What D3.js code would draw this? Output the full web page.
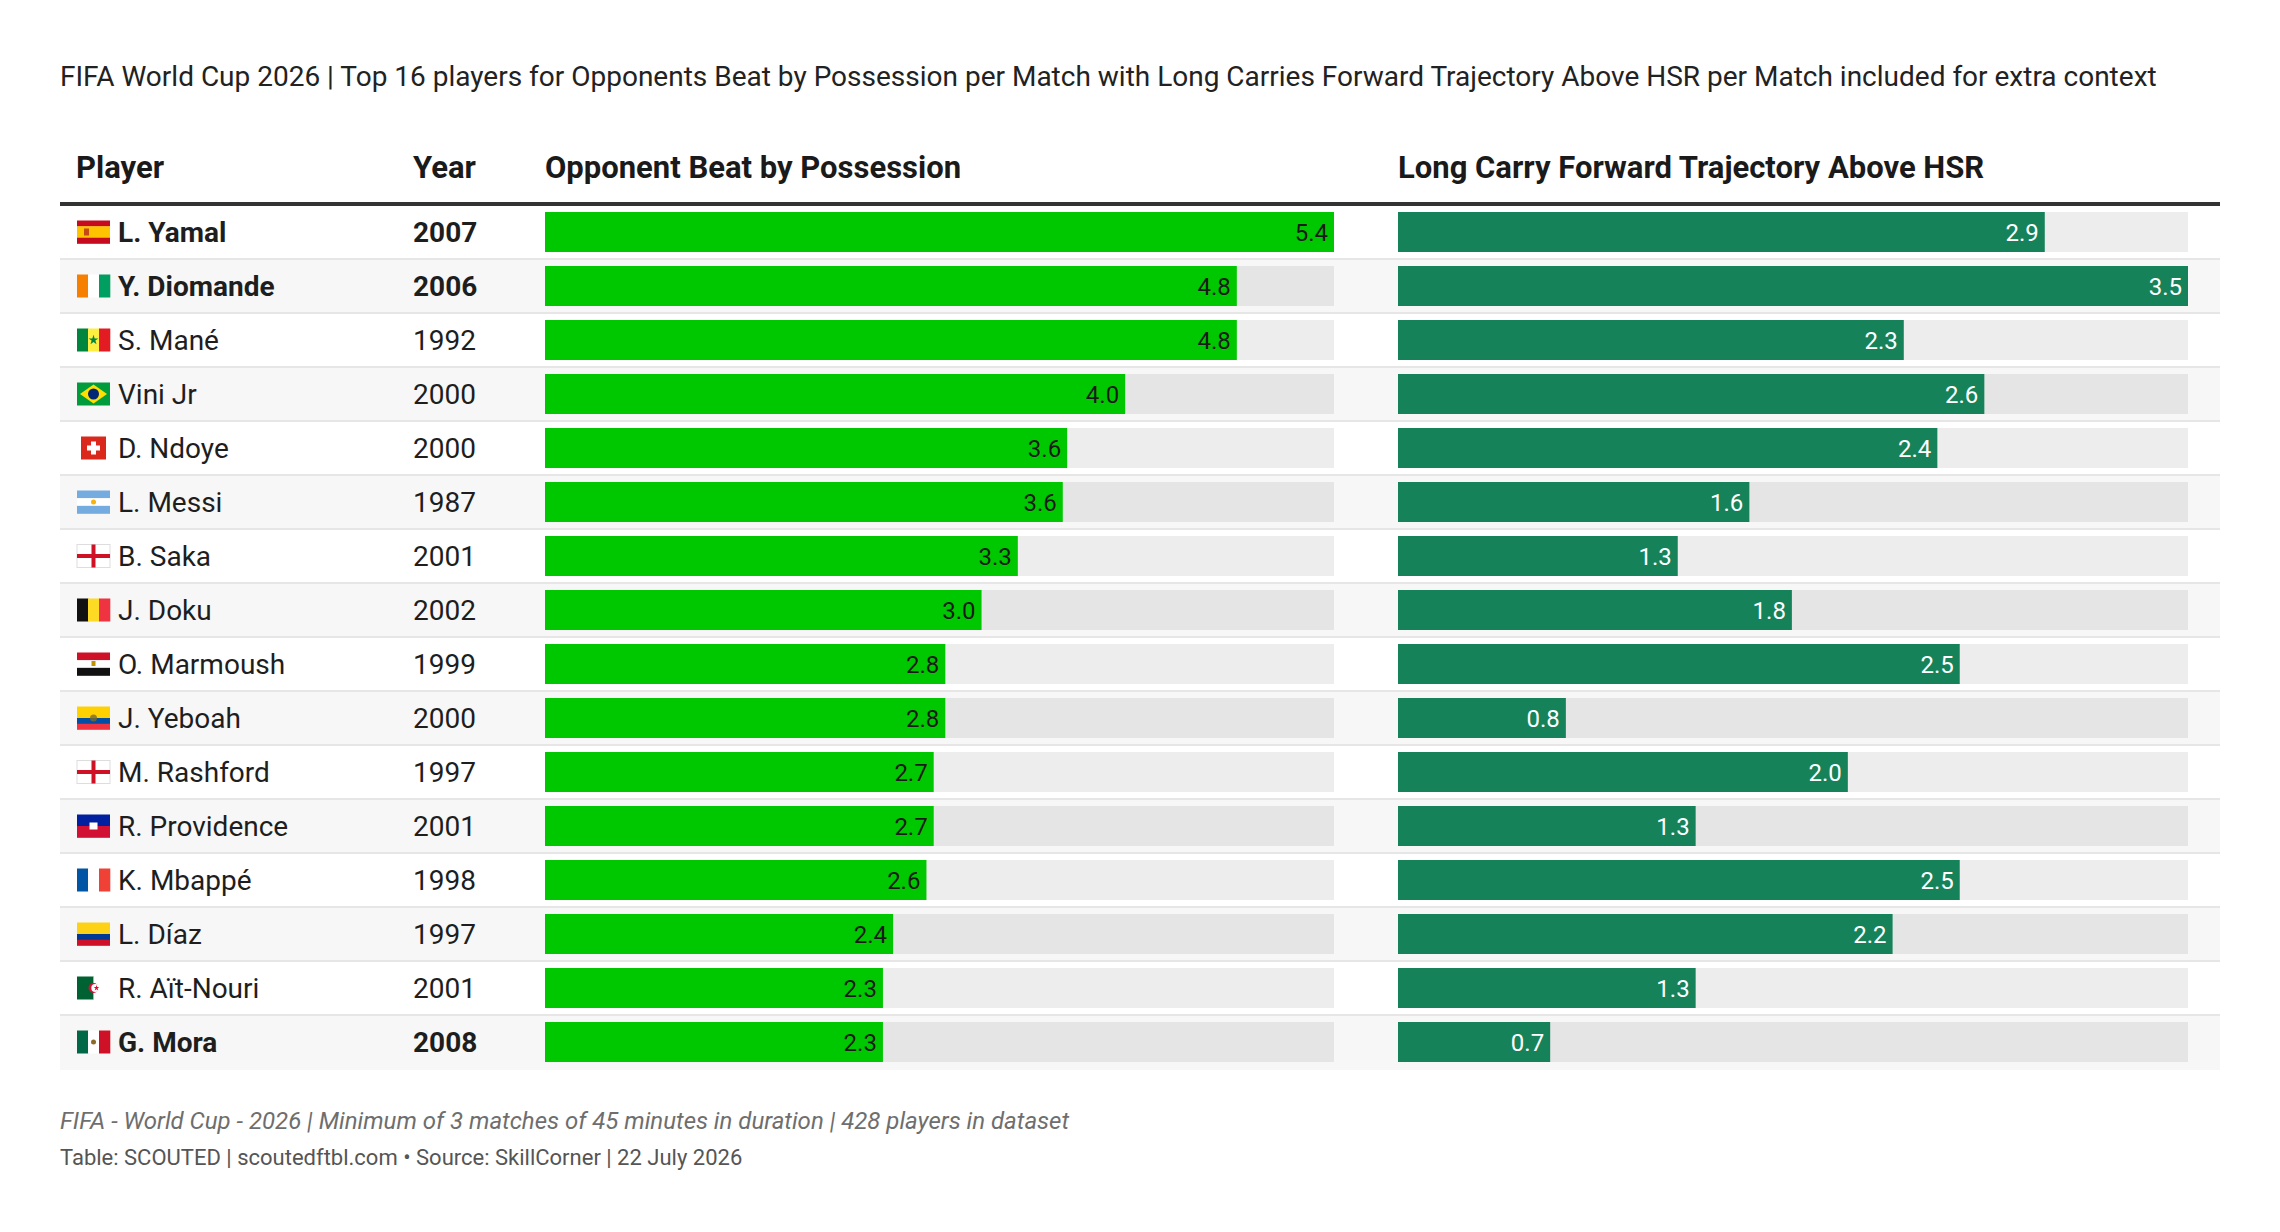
<!DOCTYPE html>
<html>
<head>
<meta charset="utf-8">
<script src="https://cdn.jsdelivr.net/npm/d3@7"></script>
<style>
  html, body { margin: 0; padding: 0; background: #fff; }
  svg { display: block; font-family: Roboto, "Noto Sans", sans-serif; }
</style>
</head>
<body>
<svg id="chart" width="2280" height="1232"></svg>
<script>
const players = ["L. Yamal", "Y. Diomande", "S. Mané", "Vini Jr", "D. Ndoye", "L. Messi", "B. Saka", "J. Doku",
  "O. Marmoush", "J. Yeboah", "M. Rashford", "R. Providence", "K. Mbappé", "L. Díaz", "R. Aït-Nouri", "G. Mora"];
const countries = ["ES", "CI", "SN", "BR", "CH", "AR", "ENG", "BE", "EG", "EC", "ENG", "HT", "FR", "CO", "DZ", "MX"];
const years = [2007, 2006, 1992, 2000, 2000, 1987, 2001, 2002, 1999, 2000, 1997, 2001, 1998, 1997, 2001, 2008];
const highlighted = [true, true, false, false, false, false, false, false, false, false, false, false, false, false, false, true];
const opponentsBeat = [5.44, 4.77, 4.77, 4.00, 3.60, 3.57, 3.26, 3.01, 2.76, 2.76, 2.68, 2.68, 2.63, 2.40, 2.33, 2.33];
const longCarries = [2.89, 3.53, 2.26, 2.62, 2.41, 1.57, 1.25, 1.76, 2.51, 0.75, 2.01, 1.33, 2.51, 2.21, 1.33, 0.68];
const headers = ["Player", "Year", "Opponent Beat by Possession", "Long Carry Forward Trajectory Above HSR"];

const title = "FIFA World Cup 2026 | Top 16 players for Opponents Beat by Possession per Match with Long Carries Forward Trajectory Above HSR per Match included for extra context";
const notes = "FIFA - World Cup - 2026 | Minimum of 3 matches of 45 minutes in duration | 428 players in dataset";
const source = "Table: SCOUTED | scoutedftbl.com • Source: SkillCorner | 22 July 2026";

const rows = players.map((p, i) => ({
  name: p, country: countries[i], year: years[i], bold: highlighted[i],
  obp: opponentsBeat[i], lcf: longCarries[i]
}));

const svg = d3.select("#chart");
const left = 60, right = 2220;
const tableTop = 206, rowH = 54;

const y = d3.scaleBand()
  .domain(d3.range(rows.length))
  .range([tableTop, tableTop + rowH * rows.length]);

const x1 = d3.scaleLinear().domain([0, d3.max(opponentsBeat)]).range([545, 1334]);
const x2 = d3.scaleLinear().domain([0, d3.max(longCarries)]).range([1398, 2188]);
const fmt = d3.format(".1f");

// title
svg.append("text")
  .attr("x", left).attr("y", 86)
  .attr("font-size", 28).attr("fill", "#222")
  .text(title);

// headers
const headX = [76, 413, 545, 1398];
svg.selectAll(".head")
  .data(headers)
  .join("text")
  .attr("class", "head")
  .attr("x", (d, i) => headX[i]).attr("y", 178)
  .attr("font-size", 31).attr("font-weight", 700).attr("fill", "#1a1a1a")
  .text(d => d);

// rows
const g = svg.selectAll(".row")
  .data(rows)
  .join("g")
  .attr("class", "row")
  .attr("transform", (d, i) => `translate(0,${y(i)})`);

g.append("rect")
  .attr("x", left).attr("width", right - left)
  .attr("height", rowH)
  .attr("fill", (d, i) => i % 2 ? "#f7f7f7" : "#fff");

g.filter((d, i) => i < rows.length - 1)
  .append("rect")
  .attr("x", left).attr("width", right - left)
  .attr("y", rowH - 2).attr("height", 2)
  .attr("fill", "#e6e6e6");

// tracks
g.append("rect")
  .attr("x", x1(0)).attr("y", 6)
  .attr("width", x1.range()[1] - x1(0)).attr("height", 40)
  .attr("fill", "rgba(0,0,0,0.07)");
g.append("rect")
  .attr("x", x2(0)).attr("y", 6)
  .attr("width", x2.range()[1] - x2(0)).attr("height", 40)
  .attr("fill", "rgba(0,0,0,0.07)");

// bars
g.append("rect")
  .attr("x", x1(0)).attr("y", 6)
  .attr("width", d => x1(d.obp) - x1(0)).attr("height", 40)
  .attr("fill", "#00c800");
g.append("rect")
  .attr("x", x2(0)).attr("y", 6)
  .attr("width", d => x2(d.lcf) - x2(0)).attr("height", 40)
  .attr("fill", "#16825a");

g.append("text")
  .attr("x", d => x1(d.obp) - 6).attr("y", 35)
  .attr("text-anchor", "end").attr("font-size", 24).attr("fill", "#1a1a1a")
  .text(d => fmt(d.obp));
g.append("text")
  .attr("x", d => x2(d.lcf) - 6).attr("y", 35)
  .attr("text-anchor", "end").attr("font-size", 24).attr("fill", "#fff")
  .text(d => fmt(d.lcf));

// names and years
g.append("text")
  .attr("x", 118).attr("y", 36)
  .attr("font-size", 28).attr("fill", "#1e1e1e")
  .attr("font-weight", d => d.bold ? 700 : 400)
  .text(d => d.name);
g.append("text")
  .attr("x", 413).attr("y", 36)
  .attr("font-size", 28).attr("fill", "#1e1e1e")
  .attr("font-weight", d => d.bold ? 700 : 400)
  .text(d => d.year);

// header rule
svg.append("rect")
  .attr("x", left).attr("y", 202)
  .attr("width", right - left).attr("height", 4)
  .attr("fill", "#333");

// flags (drawn as small shapes, 33 x 23)
const fw = 33, fh = 23;
function stripesH(s, cols, weights) {
  const w = weights || cols.map(() => 1);
  const tot = d3.sum(w);
  let acc = 0;
  cols.forEach((c, i) => {
    s.append("rect").attr("x", 0).attr("y", acc / tot * fh)
      .attr("width", fw).attr("height", w[i] / tot * fh + 0.3).attr("fill", c);
    acc += w[i];
  });
}
function stripesV(s, cols) {
  cols.forEach((c, i) => {
    s.append("rect").attr("x", i * fw / cols.length).attr("y", 0)
      .attr("width", fw / cols.length + 0.3).attr("height", fh).attr("fill", c);
  });
}
const flagDraw = {
  ES: s => { stripesH(s, ["#c60b1e", "#ffc400", "#c60b1e"], [1, 2, 1]);
    s.append("rect").attr("x", 7).attr("y", 8).attr("width", 5).attr("height", 7).attr("fill", "#ad1519").attr("opacity", 0.7); },
  CI: s => stripesV(s, ["#f77f00", "#ffffff", "#009e60"]),
  SN: s => { stripesV(s, ["#00853f", "#fdef42", "#e31b23"]);
    s.append("path").attr("d", d3.symbol(d3.symbolStar, 30)()).attr("transform", `translate(${fw / 2},${fh / 2})`).attr("fill", "#00853f"); },
  BR: s => { s.append("rect").attr("width", fw).attr("height", fh).attr("fill", "#009c3b");
    s.append("polygon").attr("points", `${fw / 2},2 ${fw - 3},${fh / 2} ${fw / 2},${fh - 2} 3,${fh / 2}`).attr("fill", "#ffdf00");
    s.append("circle").attr("cx", fw / 2).attr("cy", fh / 2).attr("r", 5.5).attr("fill", "#002776"); },
  CH: s => { s.append("rect").attr("x", 4).attr("width", fw - 8).attr("height", fh).attr("fill", "#da291c");
    s.append("rect").attr("x", fw / 2 - 2.5).attr("y", 5).attr("width", 5).attr("height", 13).attr("fill", "#fff");
    s.append("rect").attr("x", fw / 2 - 6.5).attr("y", 9).attr("width", 13).attr("height", 5).attr("fill", "#fff"); },
  AR: s => { stripesH(s, ["#74acdf", "#ffffff", "#74acdf"]);
    s.append("circle").attr("cx", fw / 2).attr("cy", fh / 2).attr("r", 2.5).attr("fill", "#f6b40e"); },
  ENG: s => { s.append("rect").attr("width", fw).attr("height", fh).attr("fill", "#fff").attr("stroke", "#ddd").attr("stroke-width", 1);
    s.append("rect").attr("x", fw / 2 - 2).attr("width", 4).attr("height", fh).attr("fill", "#ce1124");
    s.append("rect").attr("y", fh / 2 - 2).attr("width", fw).attr("height", 4).attr("fill", "#ce1124"); },
  BE: s => stripesV(s, ["#111111", "#fdda24", "#ef3340"]),
  EG: s => { stripesH(s, ["#ce1126", "#ffffff", "#111111"]);
    s.append("rect").attr("x", fw / 2 - 2).attr("y", fh / 2 - 3).attr("width", 4).attr("height", 5).attr("fill", "#c09300"); },
  EC: s => { stripesH(s, ["#ffd100", "#034ea2", "#ef3340"], [2, 1, 1]);
    s.append("circle").attr("cx", fw / 2).attr("cy", fh / 2).attr("r", 3.5).attr("fill", "#7a6a2a").attr("opacity", 0.8); },
  HT: s => { stripesH(s, ["#00209f", "#d21034"]);
    s.append("rect").attr("x", fw / 2 - 4).attr("y", fh / 2 - 3.5).attr("width", 8).attr("height", 7).attr("fill", "#fff"); },
  FR: s => stripesV(s, ["#0055a4", "#ffffff", "#ef4135"]),
  CO: s => stripesH(s, ["#fcd116", "#003893", "#ce1126"], [2, 1, 1]),
  DZ: s => { stripesV(s, ["#006233", "#ffffff"]);
    s.append("circle").attr("cx", fw / 2).attr("cy", fh / 2).attr("r", 5).attr("fill", "#d21034");
    s.append("circle").attr("cx", fw / 2 + 1.8).attr("cy", fh / 2).attr("r", 4).attr("fill", "#fff");
    s.append("path").attr("d", d3.symbol(d3.symbolStar, 10)()).attr("transform", `translate(${fw / 2 + 3},${fh / 2})`).attr("fill", "#d21034"); },
  MX: s => { stripesV(s, ["#006847", "#ffffff", "#ce1126"]);
    s.append("circle").attr("cx", fw / 2).attr("cy", fh / 2).attr("r", 2.5).attr("fill", "#8c6a2a"); }
};

g.append("g")
  .attr("transform", `translate(77,${rowH / 2 - fh / 2 - 1})`)
  .each(function(d) { flagDraw[d.country](d3.select(this)); });

// footer
svg.append("text")
  .attr("x", left).attr("y", 1129)
  .attr("font-size", 24).attr("font-style", "italic").attr("fill", "#6e6e6e")
  .text(notes);
svg.append("text")
  .attr("x", left).attr("y", 1165)
  .attr("font-size", 22).attr("fill", "#555")
  .text(source);
</script>
</body>
</html>
